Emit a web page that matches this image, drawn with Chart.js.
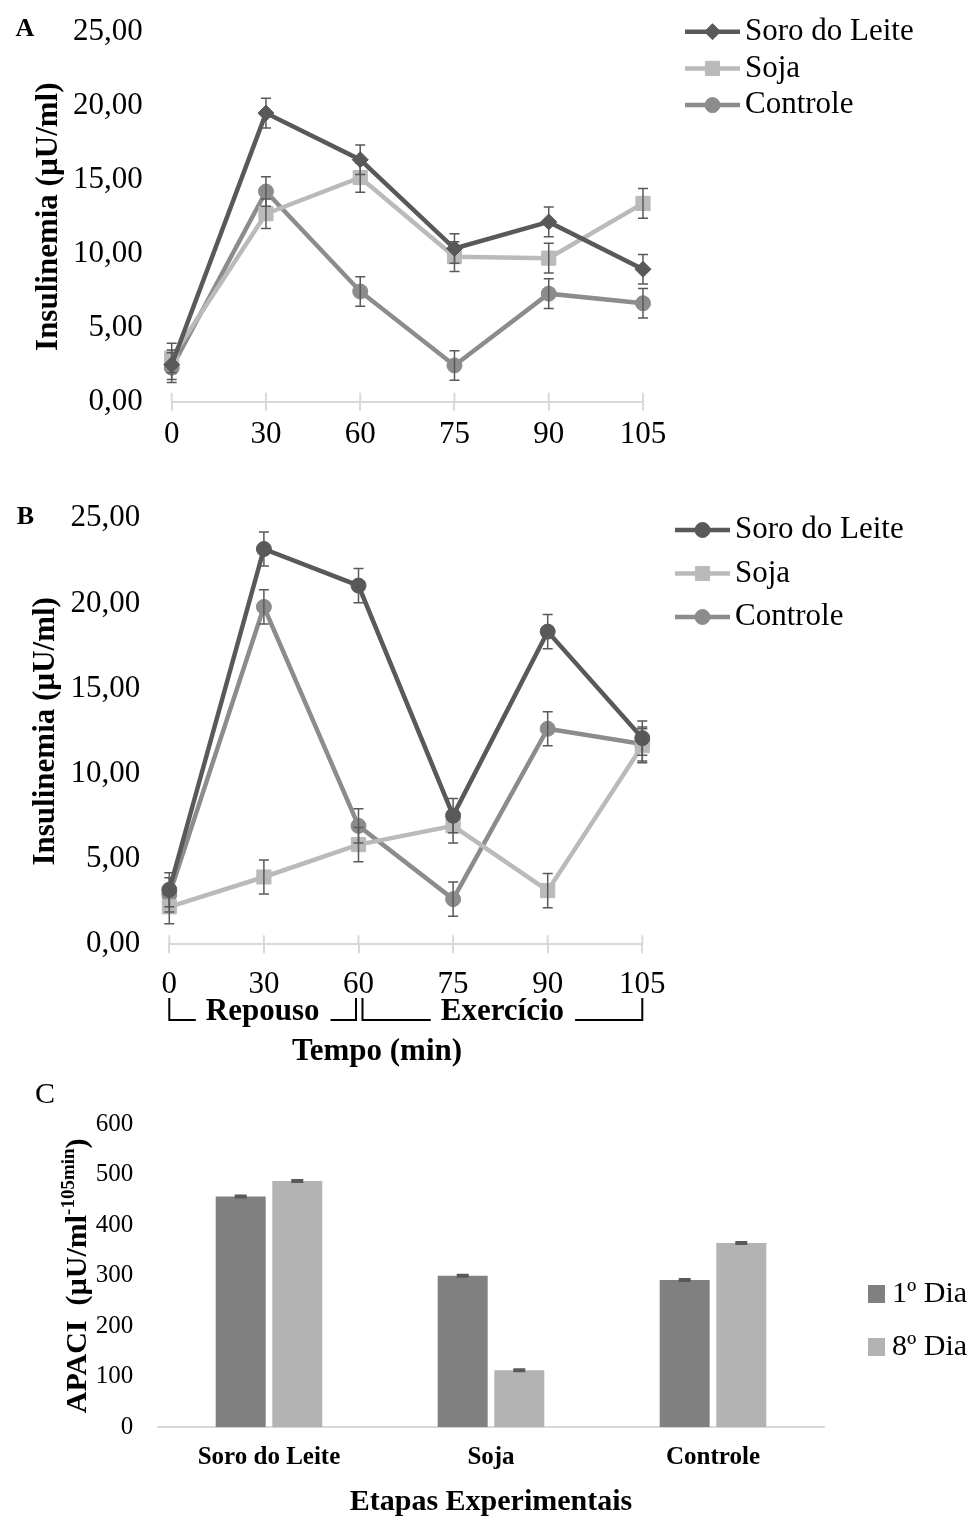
<!DOCTYPE html>
<html>
<head>
<meta charset="utf-8">
<script src="https://cdn.jsdelivr.net/npm/chart.js@4.4.0/dist/chart.umd.min.js"></script>
<style>
  body { margin: 0; background: #fff; }
  .panel { position: absolute; left: 0; width: 975px; }
  #wrapA { top: 0; height: 465px; }
  #wrapB { top: 490px; height: 590px; }
  #wrapC { top: 1080px; height: 437px; }
</style>
</head>
<body>
<div class="panel" id="wrapA"><canvas id="chartA"></canvas></div>
<div class="panel" id="wrapB"><canvas id="chartB"></canvas></div>
<div class="panel" id="wrapC"><canvas id="chartC"></canvas></div>
<script>
const FONT = "'Liberation Serif', 'Times New Roman', serif";

// tempo (min)
const times = ['0', '30', '60', '75', '90', '105'];
const seriesNames = ['Soro do Leite', 'Soja', 'Controle'];

// painel A
const soroA = [2.5, 19.5, 16.35, 10.35, 12.15, 8.95];
const sojaA = [2.95, 12.7, 15.15, 9.8, 9.7, 13.4];
const controleA = [2.3, 14.2, 7.45, 2.45, 7.3, 6.65];
const soroErrA = [1, 1, 1, 1, 1, 1];
const sojaErrA = [1, 1, 1, 1, 1, 1];
const controleErrA = [1, 1, 1, 1, 1, 1];

// painel B
const soroB = [3.2, 23.2, 21.05, 7.55, 18.35, 12.1];
const sojaB = [2.2, 3.95, 5.85, 6.95, 3.15, 11.65];
const controleB = [2.9, 19.8, 6.95, 2.65, 12.65, 11.75];
const soroErrB = [1, 1, 1, 1, 1, 1];
const sojaErrB = [1, 1, 1, 1, 1, 1];
const controleErrB = [1, 1, 1, 1, 1, 1];

const phaseNames = ['Repouso', 'Exercício'];
const phaseStart = ['0', '60'];
const phaseEnd = ['60', '105'];

// painel C
const groups = ['Soro do Leite', 'Soja', 'Controle'];
const dayNames = ['1º Dia', '8º Dia'];
const dia1 = [457, 300, 292];
const dia8 = [488, 113, 365];
const dia1Err = [2, 2, 2];
const dia8Err = [2, 2, 2];

const colors = { soro: '#595959', soja: '#bababa', controle: '#8c8c8c' };

Chart.defaults.font.family = FONT;
Chart.defaults.color = '#000';

const comma = v => v.toFixed(2).replace('.', ',');

// error bars drawn from the y scale
const errorBars = {
  id: 'errorBars',
  afterDatasetsDraw(chart, args, o) {
    const ctx = chart.ctx;
    const ys = chart.scales.y;
    chart.data.datasets.forEach((ds, i) => {
      if (!ds.errors) return;
      chart.getDatasetMeta(i).data.forEach((el, j) => {
        const v = ds.data[j], e = ds.errors[j];
        const top = ys.getPixelForValue(v + e);
        const bot = ys.getPixelForValue(v - e);
        ctx.save();
        ctx.strokeStyle = '#595959';
        ctx.lineWidth = o.width || 1.5;
        ctx.beginPath();
        ctx.moveTo(el.x, top); ctx.lineTo(el.x, bot);
        ctx.moveTo(el.x - o.cap, top); ctx.lineTo(el.x + o.cap, top);
        ctx.moveTo(el.x - o.cap, bot); ctx.lineTo(el.x + o.cap, bot);
        ctx.stroke();
        ctx.restore();
      });
    });
  }
};

// small tick marks above the x axis line (Excel style crossing ticks)
const crossTicks = {
  id: 'crossTicks',
  beforeDatasetsDraw(chart) {
    const xs = chart.scales.x, ctx = chart.ctx;
    const b = chart.chartArea.bottom;
    ctx.save();
    ctx.strokeStyle = '#d9d9d9';
    ctx.lineWidth = 2;
    ctx.beginPath();
    xs.ticks.forEach((t, i) => {
      const x = xs.getPixelForTick(i);
      ctx.moveTo(x, b - 9); ctx.lineTo(x, b);
    });
    ctx.stroke();
    ctx.restore();
  }
};

const sideLegend = {
  id: 'sideLegend',
  afterDraw(chart, args, o) {
    const ctx = chart.ctx;
    ctx.save();
    chart.data.datasets.forEach((ds, i) => {
      const y = o.y + i * o.gap;
      if (o.kind === 'line') {
        ctx.strokeStyle = ds.borderColor;
        ctx.lineWidth = ds.borderWidth;
        ctx.beginPath();
        ctx.moveTo(o.x, y); ctx.lineTo(o.x + o.len, y);
        ctx.stroke();
        ctx.fillStyle = ds.pointBackgroundColor;
        ctx.strokeStyle = ds.pointBorderColor;
        ctx.lineWidth = 1;
        Chart.helpers.drawPoint(ctx, { pointStyle: ds.pointStyle, radius: ds.pointRadius, rotation: 0, borderWidth: 1 }, o.x + o.len / 2, y);
      } else {
        ctx.fillStyle = ds.backgroundColor;
        ctx.fillRect(o.x, y - 9, 17, 18);
      }
      ctx.fillStyle = '#000';
      ctx.font = o.font;
      ctx.textBaseline = 'middle';
      ctx.textAlign = 'left';
      ctx.fillText(ds.label, o.x + o.len + o.textGap, y);
    });
    ctx.restore();
  }
};

const panelLetter = {
  id: 'panelLetter',
  afterDraw(chart, args, o) {
    const ctx = chart.ctx;
    ctx.save();
    ctx.font = o.font;
    ctx.fillStyle = '#000';
    ctx.textAlign = 'center';
    ctx.textBaseline = 'middle';
    ctx.fillText(o.text, o.x, o.y);
    ctx.restore();
  }
};

const phaseBrackets = {
  id: 'phaseBrackets',
  afterDraw(chart, args, o) {
    const xs = chart.scales.x, ctx = chart.ctx;
    ctx.save();
    ctx.font = 'bold 31px ' + FONT;
    ctx.fillStyle = '#000';
    ctx.strokeStyle = '#000';
    ctx.lineWidth = 2;
    ctx.textAlign = 'center';
    ctx.textBaseline = 'alphabetic';
    phaseNames.forEach((name, i) => {
      let x0 = xs.getPixelForValue(xs.parse(phaseStart[i]));
      let x1 = xs.getPixelForValue(xs.parse(phaseEnd[i]));
      if (i > 0) x0 += 4;
      if (i < phaseNames.length - 1) x1 -= 2.5;
      const mid = (x0 + x1) / 2;
      const w = ctx.measureText(name).width;
      ctx.fillText(name, mid, o.y);
      ctx.beginPath();
      ctx.moveTo(x0, o.y - 22); ctx.lineTo(x0, o.y); ctx.lineTo(mid - w / 2 - 10, o.y);
      ctx.moveTo(mid + w / 2 + 11, o.y); ctx.lineTo(x1, o.y); ctx.lineTo(x1, o.y - 22);
      ctx.stroke();
    });
    ctx.fillText(o.title, o.titleX, o.titleY);
    ctx.restore();
  }
};

const apaciTitle = {
  id: 'apaciTitle',
  afterDraw(chart, args, o) {
    const ctx = chart.ctx, ca = chart.chartArea;
    const main = 'APACI  (µU/ml', sup = '-105min', close = ')';
    ctx.save();
    ctx.fillStyle = '#000';
    ctx.font = 'bold 30px ' + FONT;
    const w1 = ctx.measureText(main).width, w3 = ctx.measureText(close).width;
    ctx.font = 'bold 19px ' + FONT;
    const w2 = ctx.measureText(sup).width;
    ctx.translate(o.x, (ca.top + ca.bottom) / 2);
    ctx.rotate(-Math.PI / 2);
    ctx.textAlign = 'left';
    ctx.textBaseline = 'alphabetic';
    let cx = -(w1 + w2 + w3) / 2;
    ctx.font = 'bold 30px ' + FONT; ctx.fillText(main, cx, 0); cx += w1;
    ctx.font = 'bold 19px ' + FONT; ctx.fillText(sup, cx, -12); cx += w2;
    ctx.font = 'bold 30px ' + FONT; ctx.fillText(close, cx, 0);
    ctx.restore();
  }
};

function lineSet(label, data, errors, color, style, radius) {
  return {
    label, data, errors,
    borderColor: color, backgroundColor: color,
    pointBackgroundColor: color, pointBorderColor: color,
    borderWidth: 4.5, pointStyle: style, pointRadius: radius, pointBorderWidth: 1,
    tension: 0
  };
}

function lineOptions(p) {
  return {
    responsive: true,
    maintainAspectRatio: false,
    animation: false,
    layout: { padding: p.padding },
    plugins: {
      legend: { display: false },
      tooltip: { enabled: false },
      errorBars: { cap: 5 },
      sideLegend: p.legend,
      panelLetter: p.letter,
      phaseBrackets: p.brackets || {}
    },
    scales: {
      x: {
        type: 'category',
        offset: false,
        grid: { display: true, drawOnChartArea: false, drawTicks: true, tickLength: 9, color: '#d9d9d9', lineWidth: 2 },
        border: { display: true, color: '#d9d9d9', width: 2 },
        ticks: { font: { size: 31 }, color: '#000', padding: p.xPad, maxRotation: 0, autoSkip: false },
        afterFit: s => { s.height = p.xHeight; }
      },
      y: {
        min: 0, max: 25,
        // hidden tick length gives the gap between labels and plot
        grid: { display: false, drawTicks: true, tickLength: 29 },
        border: { display: false },
        ticks: { stepSize: 5, font: { size: 31 }, color: '#000', padding: 0, callback: comma },
        title: { display: true, text: 'Insulinemia (µU/ml)', font: { size: 31, weight: 'bold' }, color: '#000', padding: { top: p.titlePad, bottom: 0 } },
        afterFit: s => { s.width = p.yWidth; }
      }
    }
  };
}

new Chart(document.getElementById('chartA'), {
  type: 'line',
  data: {
    labels: times,
    datasets: [
      lineSet(seriesNames[0], soroA, soroErrA, colors.soro, 'rectRot', 8),
      lineSet(seriesNames[1], sojaA, sojaErrA, colors.soja, 'rect', 10),
      lineSet(seriesNames[2], controleA, controleErrA, colors.controle, 'circle', 7.5)
    ]
  },
  options: lineOptions({
    padding: { top: 31.7, right: 332, bottom: 0, left: 0 },
    xPad: 6, xHeight: 63.3, yWidth: 171.7, titlePad: 30,
    legend: { kind: 'line', x: 685, y: 31.7, gap: 36.7, len: 55, textGap: 5, font: '31px ' + FONT },
    letter: { text: 'A', x: 25, y: 29, font: 'bold 26px ' + FONT }
  }),
  plugins: [crossTicks, errorBars, sideLegend, panelLetter]
});

new Chart(document.getElementById('chartB'), {
  type: 'line',
  data: {
    labels: times,
    datasets: [
      lineSet(seriesNames[0], soroB, soroErrB, colors.soro, 'circle', 7.5),
      lineSet(seriesNames[1], sojaB, sojaErrB, colors.soja, 'rect', 10),
      lineSet(seriesNames[2], controleB, controleErrB, colors.controle, 'circle', 7.5)
    ]
  },
  options: lineOptions({
    padding: { top: 28.3, right: 332.7, bottom: 0, left: 0 },
    xPad: 13, xHeight: 135.7, yWidth: 169.3, titlePad: 27,
    legend: { kind: 'line', x: 675, y: 40, gap: 43.5, len: 55, textGap: 5, font: '31px ' + FONT },
    letter: { text: 'B', x: 25.5, y: 27, font: 'bold 26px ' + FONT },
    brackets: { y: 530, title: 'Tempo (min)', titleX: 377, titleY: 570 }
  }),
  plugins: [crossTicks, errorBars, sideLegend, panelLetter, phaseBrackets]
});

new Chart(document.getElementById('chartC'), {
  type: 'bar',
  data: {
    labels: groups,
    datasets: [
      { label: dayNames[0], data: dia1, errors: dia1Err, backgroundColor: '#808080' },
      { label: dayNames[1], data: dia8, errors: dia8Err, backgroundColor: '#b3b3b3' }
    ]
  },
  options: {
    responsive: true,
    maintainAspectRatio: false,
    animation: false,
    layout: { padding: { top: 44.4, right: 151, bottom: 0, left: 0 } },
    datasets: { bar: { categoryPercentage: 0.51, barPercentage: 0.883 } },
    plugins: {
      legend: { display: false },
      tooltip: { enabled: false },
      errorBars: { cap: 6, width: 2 },
      sideLegend: { kind: 'box', x: 868, y: 214, gap: 53, len: 17, textGap: 7, font: '30px ' + FONT },
      panelLetter: { text: 'C', x: 45, y: 15, font: '30px ' + FONT },
      apaciTitle: { x: 86 }
    },
    scales: {
      x: {
        grid: { display: false, drawTicks: false },
        border: { display: true, color: '#d9d9d9', width: 2 },
        ticks: { font: { size: 25, weight: 'bold' }, color: '#000', padding: 15.7 },
        title: { display: true, text: 'Etapas Experimentais', font: { size: 30, weight: 'bold', lineHeight: 1 }, color: '#000', padding: 0 },
        afterFit: s => { s.height = 89.7; }
      },
      y: {
        min: 0, max: 600,
        grid: { display: false, drawTicks: false },
        border: { display: false },
        ticks: { stepSize: 100, font: { size: 25 }, color: '#000', padding: 24.7 },
        afterFit: s => { s.width = 158; }
      }
    }
  },
  plugins: [errorBars, sideLegend, panelLetter, apaciTitle]
});
</script>
</body>
</html>
